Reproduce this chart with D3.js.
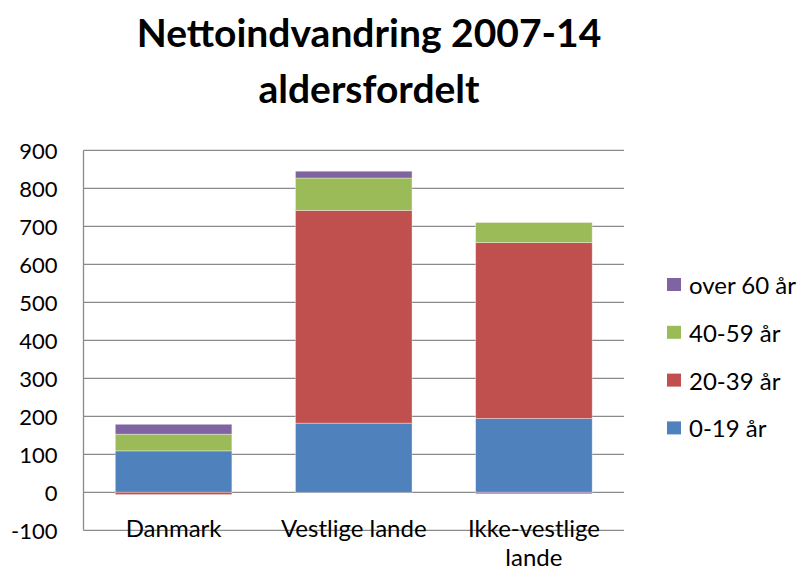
<!DOCTYPE html>
<html>
<head>
<meta charset="utf-8">
<script src="https://cdn.jsdelivr.net/npm/d3@7"></script>
<style>
  html, body { margin: 0; padding: 0; background: #fff; }
  svg { display: block; font-family: Lato, "Open Sans", sans-serif; }
</style>
</head>
<body>
<svg id="chart" width="800" height="567"></svg>
<script>
// ---- Data ----
const titleLines = ["Nettoindvandring 2007-14", "aldersfordelt"];
const categories = ["Danmark", "Vestlige lande", "Ikke-vestlige lande"];
const seriesNames = ["0-19 år", "20-39 år", "40-59 år", "over 60 år"];
const seriesColors = ["#4F81BD", "#C0504D", "#9BBB59", "#8064A2"];
const age0_19   = [109, 182, 194];
const age20_39  = [-6, 560, 463];
const age40_59  = [44, 85, 53];
const ageOver60 = [26, 18, -4];
const yTicks = [-100, 0, 100, 200, 300, 400, 500, 600, 700, 800, 900];

// ---- Build table ----
const seriesValues = [age0_19, age20_39, age40_59, ageOver60];
const table = categories.map((c, i) => {
  const row = { category: c };
  seriesNames.forEach((s, j) => row[s] = seriesValues[j][i]);
  return row;
});

const svg = d3.select("#chart");
const plotLeft = 83.5, plotRight = 624;

const x = d3.scaleBand().domain(categories).range([plotLeft, plotRight])
  .paddingInner(0.353).paddingOuter(0.1765);
const y = d3.scaleLinear().domain([-100, 900]).range([530.3, 150.3]);

// gridlines
svg.append("g").selectAll("line").data(yTicks).join("line")
  .attr("x1", plotLeft).attr("x2", plotRight)
  .attr("y1", d => y(d)).attr("y2", d => y(d))
  .attr("stroke", "#8a8a8a").attr("stroke-width", 1.3);

// bars
const stack = d3.stack().keys(seriesNames).offset(d3.stackOffsetDiverging);
const stacked = stack(table);
const color = d3.scaleOrdinal().domain(seriesNames).range(seriesColors);

svg.append("g").selectAll("g").data(stacked).join("g")
  .attr("fill", d => color(d.key))
  .selectAll("rect").data(d => d).join("rect")
  .attr("x", d => x(d.data.category))
  .attr("width", x.bandwidth())
  .attr("y", d => y(Math.max(d[0], d[1])))
  .attr("height", d => Math.abs(y(d[0]) - y(d[1])))
  .attr("stroke", "rgba(255,255,255,0.45)")
  .attr("stroke-width", 0.8);

// y axis line
svg.append("line")
  .attr("x1", plotLeft).attr("x2", plotLeft)
  .attr("y1", y(900)).attr("y2", y(-100))
  .attr("stroke", "#8a8a8a").attr("stroke-width", 1.3);

// y tick labels
svg.append("g").selectAll("text").data(yTicks).join("text")
  .attr("x", 57.5).attr("y", d => y(d))
  .attr("text-anchor", "end").attr("dominant-baseline", "central")
  .attr("font-size", 22).attr("fill", "#000")
  .text(d => d);

// category labels (wrap last one)
const catLines = { "Ikke-vestlige lande": ["Ikke-vestlige", "lande"] };
const catG = svg.append("g").selectAll("text").data(categories).join("text")
  .attr("text-anchor", "middle").attr("font-size", 24).attr("fill", "#000");
catG.each(function(d) {
  const lines = catLines[d] || [d];
  const t = d3.select(this);
  lines.forEach((ln, i) => {
    t.append("tspan")
      .attr("x", x(d) + x.bandwidth() / 2)
      .attr("y", 537 + i * 29)
      .text(ln);
  });
});

// title
svg.append("g").selectAll("text").data(titleLines).join("text")
  .attr("x", 369).attr("y", (d, i) => 46.5 + i * 56.5)
  .attr("text-anchor", "middle").attr("font-weight", "bold")
  .attr("font-size", 39).attr("fill", "#000")
  .text(d => d);

// legend (reverse order)
const legendItems = seriesNames.slice().reverse();
const lg = svg.append("g").selectAll("g").data(legendItems).join("g")
  .attr("transform", (d, i) => `translate(667, ${284.5 + i * 47.8})`);
lg.append("rect").attr("x", 0).attr("y", -6.5).attr("width", 14).attr("height", 13)
  .attr("fill", d => color(d));
lg.append("text").attr("x", 22).attr("y", 0)
  .attr("dominant-baseline", "central").attr("font-size", 24).attr("fill", "#000")
  .text(d => d);
</script>
</body>
</html>
